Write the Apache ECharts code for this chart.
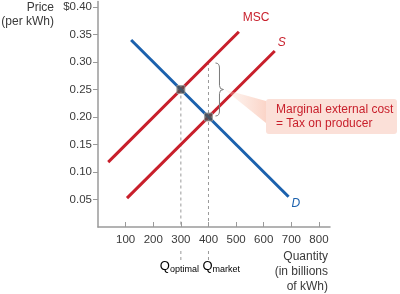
<!DOCTYPE html>
<html>
<head>
<meta charset="utf-8">
<script src="https://cdn.jsdelivr.net/npm/echarts@6/dist/echarts.min.js"></script>
<style>
html, body { margin: 0; padding: 0; background: #fff; }
#chart { width: 400px; height: 294px; }
</style>
</head>
<body>
<div id="chart"></div>
<script>
// data
const xTicks = [100, 200, 300, 400, 500, 600, 700, 800];
const yTicks = [0.05, 0.10, 0.15, 0.20, 0.25, 0.30, 0.35, 0.40];
const mscLine = [[37, 0.118], [510, 0.355]];
const supplyLine = [[105, 0.0525], [640, 0.32]];
const demandLine = [[120, 0.34], [690, 0.055]];
const optimalPoint = [300, 0.25];
const marketPoint = [400, 0.20];
const taxTop = [400, 0.30];

const FONT = 'Liberation Sans';
const RED = '#c81f2b';
const BLUE = '#1b61ad';
const TXT = '#3a3a3a';

const chart = echarts.init(document.getElementById('chart'));

const dashed = { color: '#9a9a9a', width: 1, type: [3, 3] };

chart.setOption({
    animation: false,
    grid: { left: 98, right: 70, top: 1.5, bottom: 67 },
    xAxis: {
        type: 'value', min: 0, max: 840,
        axisLine: { lineStyle: { color: '#9a9a9a', width: 1.5 } },
        axisTick: { show: true, inside: true, length: 5, customValues: xTicks, lineStyle: { color: '#9a9a9a' } },
        axisLabel: { customValues: xTicks, margin: 7, color: TXT, fontFamily: FONT, fontSize: 11.5 },
        splitLine: { show: false }
    },
    yAxis: {
        type: 'value', min: 0, max: 0.41,
        axisLine: { show: true, lineStyle: { color: '#9a9a9a', width: 1.5 } },
        axisTick: { show: true, length: 5, customValues: yTicks, lineStyle: { color: '#9a9a9a' } },
        axisLabel: {
            customValues: yTicks, margin: 6, color: TXT, fontFamily: FONT, fontSize: 11.5,
            formatter: v => (Math.abs(v - 0.4) < 1e-6 ? '$' : '') + v.toFixed(2)
        },
        splitLine: { show: false }
    },
    series: [
        { type: 'line', data: [optimalPoint, [optimalPoint[0], 0]], symbol: 'none', lineStyle: dashed, z: 1 },
        { type: 'line', data: [taxTop, [taxTop[0], 0]], symbol: 'none', lineStyle: dashed, z: 1 },
        { name: 'MSC', type: 'line', data: mscLine, symbol: 'none', lineStyle: { color: RED, width: 3 }, z: 2 },
        { name: 'S', type: 'line', data: supplyLine, symbol: 'none', lineStyle: { color: RED, width: 3 }, z: 2 },
        { name: 'D', type: 'line', data: demandLine, symbol: 'none', lineStyle: { color: BLUE, width: 3 }, z: 2 },
        {
            type: 'scatter', data: [optimalPoint, marketPoint], symbol: 'rect', symbolSize: 8,
            itemStyle: { color: '#505050', borderColor: '#9a9a9a', borderWidth: 1 }, z: 5
        }
    ]
});

// annotations placed from data coordinates
const px = p => chart.convertToPixel({ gridIndex: 0 }, p);
const pOpt = px(optimalPoint), pMkt = px(marketPoint), pTop = px(taxTop);
const axisY = px([0, 0])[1];
const mscEnd = px(mscLine[1]), sEnd = px(supplyLine[1]), dEnd = px(demandLine[1]);

// curly brace next to the tax gap
const bx = pTop[0] + 7, w = 8, bm = bx + w / 2;
const yt = pTop[1] + 1, yb = pMkt[1] - 1, ym = (yt + yb) / 2;
const braceStyle = { stroke: '#7a7a7a', fill: null, lineWidth: 1 };
const curve = (x1, y1, cx, cy, x2, y2) => ({ type: 'bezierCurve', shape: { x1, y1, cpx1: cx, cpy1: cy, x2, y2 }, style: braceStyle, z: 10 });
const seg = (x1, y1, x2, y2) => ({ type: 'line', shape: { x1, y1, x2, y2 }, style: braceStyle, z: 10 });
const brace = [
    curve(bx, yt, bm, yt, bm, yt + 5),
    seg(bm, yt + 5, bm, ym - 4),
    curve(bm, ym - 4, bm, ym, bx + w, ym),
    curve(bx + w, ym, bm, ym, bm, ym + 4),
    seg(bm, ym + 4, bm, yb - 5),
    curve(bm, yb - 5, bm, yb, bx, yb)
];

const boxX = 266, boxY = 99, boxW = 131, boxH = 35;
const qRich = {
    q: { fontFamily: FONT, fontSize: 13, color: TXT },
    s: { fontFamily: FONT, fontSize: 9, color: TXT, padding: [6, 0, 0, 0] }
};
const qDash = x => ({ type: 'line', shape: { x1: x, y1: axisY + 24, x2: x, y2: axisY + 33 }, style: { stroke: '#9a9a9a', lineWidth: 1, lineDash: [3, 3] } });

chart.setOption({
    graphic: [
        { type: 'text', x: 54, y: 1, style: { text: 'Price\n(per kWh)', fill: TXT, font: `12px "${FONT}"`, align: 'right', lineHeight: 14 } },
        { type: 'text', x: mscEnd[0] + 4, y: mscEnd[1] - 20, style: { text: 'MSC', fill: RED, font: `12px "${FONT}"` } },
        { type: 'text', x: sEnd[0] + 3, y: sEnd[1] - 14, style: { text: 'S', fill: RED, font: `italic 12px "${FONT}"` } },
        { type: 'text', x: dEnd[0] + 3, y: dEnd[1] + 1, style: { text: 'D', fill: BLUE, font: `italic 12px "${FONT}"` } },
        ...brace,
        {
            type: 'polygon', shape: { points: [[bx + w + 1, ym], [boxX, boxY + 2], [boxX, boxY + 24]] },
            style: {
                fill: {
                    type: 'linear', x: 0, y: 0, x2: 1, y2: 0,
                    colorStops: [
                        { offset: 0, color: 'rgba(250,215,200,0.2)' },
                        { offset: 1, color: 'rgba(250,205,190,0.85)' }
                    ]
                }
            }, z: 9
        },
        { type: 'rect', shape: { x: boxX, y: boxY, width: boxW, height: boxH, r: 3 }, style: { fill: '#fbe0d8' }, z: 9 },
        { type: 'text', x: boxX + 10, y: boxY + 4, style: { text: 'Marginal external cost\n= Tax on producer', fill: RED, font: `12px "${FONT}"`, lineHeight: 14 }, z: 11 },
        qDash(pOpt[0]),
        qDash(pMkt[0]),
        { type: 'text', x: pOpt[0] - 21, y: axisY + 32, style: { text: '{q|Q}{s|optimal}', rich: qRich } },
        { type: 'text', x: pMkt[0] - 6, y: axisY + 32, style: { text: '{q|Q}{s|market}', rich: qRich } },
        { type: 'text', x: 328, y: 249, style: { text: 'Quantity\n(in billions\nof kWh)', fill: TXT, font: `12px "${FONT}"`, align: 'right', lineHeight: 15 } }
    ]
});
</script>
</body>
</html>
